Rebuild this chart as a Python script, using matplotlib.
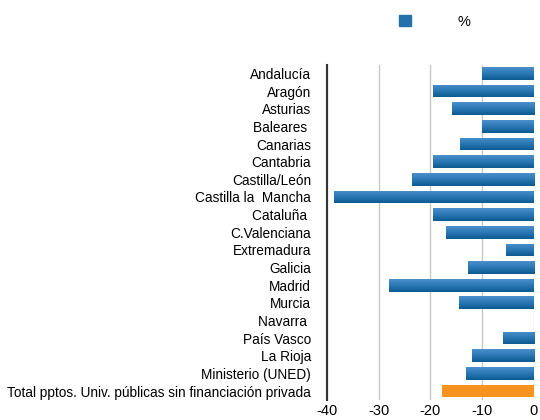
import numpy as np
import matplotlib.pyplot as plt
from matplotlib.patches import Patch
from matplotlib.colors import LinearSegmentedColormap

regiones = ['Andalucía', 'Aragón', 'Asturias', 'Baleares ', 'Canarias', 'Cantabria',
            'Castilla/León', 'Castilla la  Mancha', 'Cataluña ', 'C.Valenciana',
            'Extremadura', 'Galicia', 'Madrid', 'Murcia', 'Navarra ', 'País Vasco',
            'La Rioja', 'Ministerio (UNED)',
            'Total pptos. Univ. públicas sin financiación privada']
valores = [-10.0, -19.5, -15.9, -10.0, -14.3, -19.5, -23.6, -38.6, -19.5, -17.0,
           -5.4, -12.8, -28.0, -14.5, 0.0, -6.0, -12.0, -13.1, -17.8]
xticks = [-40, -30, -20, -10, 0]

plt.rcParams['font.family'] = ['Liberation Sans', 'DejaVu Sans']

fig = plt.figure(figsize=(5.4, 4.2), dpi=100)
ax = fig.add_axes([0.6056, 0.048, 0.383, 0.798])

y = np.arange(len(regiones))
alto = 0.72
colores = ['#2470ab'] * (len(regiones) - 1) + ['#f7931e']
barras = ax.barh(y, valores, height=alto, color=colores, zorder=3)

# degradado vertical en las barras azules
azul = LinearSegmentedColormap.from_list('azul', ['#4a90cc', '#2a78b4', '#0b5b91'])
grad = np.linspace(0, 1, 64).reshape(-1, 1)
for b, yi, v in zip(barras[:-1], y[:-1], valores[:-1]):
    if v == 0:
        continue
    im = ax.imshow(grad, cmap=azul, aspect='auto', origin='upper',
                   extent=(v, 0, yi + alto / 2, yi - alto / 2), zorder=4)
    im.set_clip_path(b)

ax.set_xlim(-40, 0)
ax.set_ylim(len(regiones) - 0.5, -0.5)
ax.set_xticks(xticks)
ax.set_xticklabels([str(v) for v in xticks], fontsize=10.5)
ax.set_yticks(y)
ax.set_yticklabels(regiones, fontsize=9.8)
ax.tick_params(axis='y', length=0, pad=11.5)
ax.tick_params(axis='x', length=0, pad=3)
ax.grid(axis='x', color='#c8c8c8', linewidth=1, zorder=0)
for s in ['top', 'right', 'bottom']:
    ax.spines[s].set_visible(False)
ax.spines['left'].set_color('#333333')
ax.spines['left'].set_linewidth(1.5)
ax.spines['left'].set_zorder(5)

fig.legend(handles=[Patch(color='#2470ab', label='%')], loc='center',
           bbox_to_anchor=(0.805, 0.948), frameon=False, fontsize=10.5,
           handlelength=0.8, handleheight=0.8, handletextpad=3.2)

fig.savefig('out.png', dpi=100)
